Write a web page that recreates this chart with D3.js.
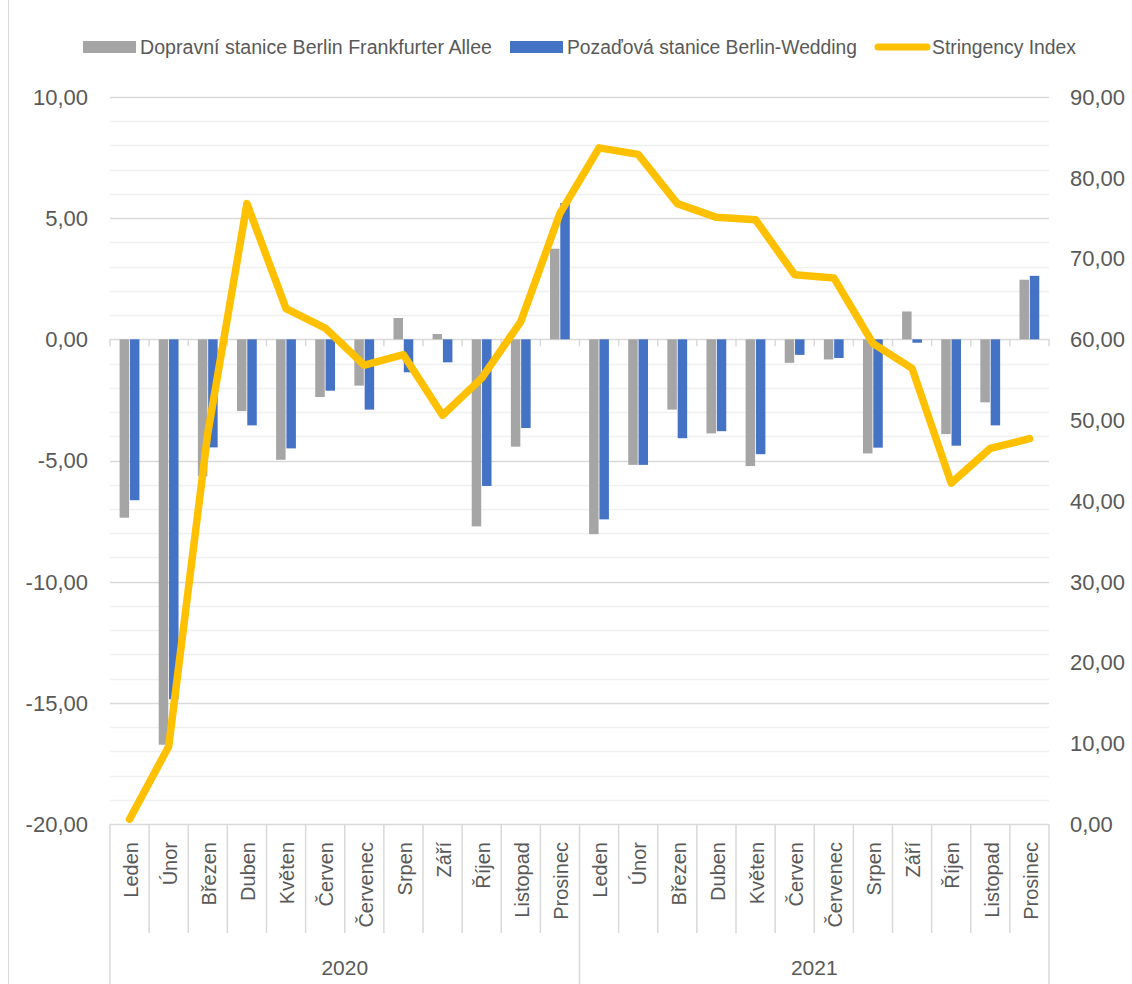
<!DOCTYPE html>
<html>
<head>
<meta charset="utf-8">
<script src="https://cdn.jsdelivr.net/npm/d3@7"></script>
<style>
    body { margin: 0; background: #fff; }
    svg text { font-family: 'Liberation Sans', Arial, sans-serif; fill: #595959; }
</style>
</head>
<body>
<svg width="1132" height="984"></svg>
<script>
// air quality change vs. stringency index, Berlin 2020-2021

var months = ['Leden', 'Únor', 'Březen', 'Duben', 'Květen', 'Červen', 'Červenec', 'Srpen', 'Září', 'Říjen', 'Listopad', 'Prosinec'];
var years = ['2020', '2021'];

var frankfurterAllee = [-7.36, -16.73, -5.65, -2.96, -4.97, -2.38, -1.91, 0.88, 0.22, -7.72, -4.43, 3.74,
    -8.04, -5.18, -2.90, -3.88, -5.23, -0.97, -0.83, -4.71, 1.15, -3.91, -2.60, 2.46];
var wedding = [-6.64, -14.85, -4.46, -3.55, -4.50, -2.12, -2.90, -1.36, -0.95, -6.05, -3.66, 5.62,
    -7.43, -5.18, -4.08, -3.79, -4.74, -0.64, -0.77, -4.47, -0.14, -4.39, -3.55, 2.62];
var stringency = [0.6, 9.6, 48.4, 76.8, 63.8, 61.4, 56.8, 58.1, 50.6, 55.2, 62.2, 75.6,
    83.7, 82.9, 76.8, 75.1, 74.8, 68.0, 67.6, 59.5, 56.4, 42.2, 46.5, 47.7];

var seriesNames = ['Dopravní stanice Berlin Frankfurter Allee', 'Pozaďová stanice Berlin-Wedding', 'Stringency Index'];
var leftTicks = [-20, -15, -10, -5, 0, 5, 10];
var rightTicks = [0, 10, 20, 30, 40, 50, 60, 70, 80, 90];

var svg = d3.select('svg');
var plot = {l: 110, r: 1049, t: 97, b: 824};
var gray = '#a5a5a5', blue = '#4472c4', gold = '#ffc000';
var fmt = function(v) { return d3.format('.2f')(v).replace('.', ',').replace('\u2212', '-'); };

// one category per month of both years
var cats = [];
years.forEach(function(yr) {
    months.forEach(function(m) { cats.push({year: yr, month: m}); });
});

var x = d3.scaleBand()
    .domain(d3.range(cats.length))
    .range([plot.l, plot.r]);
var x1 = d3.scaleBand()
    .domain([0, 1])
    .range([9.6, 29.4])
    .paddingInner(0.08);
var y = d3.scaleLinear().domain([-20, 10]).range([plot.b, plot.t]);
var y2 = d3.scaleLinear().domain([0, 90]).range([plot.b, plot.t]);

// chart area border
svg.append('line')
    .attr('x1', 8.5).attr('x2', 8.5)
    .attr('y1', 0).attr('y2', 984)
    .attr('stroke', '#d9d9d9');

// gridlines
svg.append('g').selectAll('line')
    .data(d3.range(-20, 11).filter(function(v) { return v % 5 != 0; }))
    .enter().append('line')
    .attr('x1', plot.l).attr('x2', plot.r)
    .attr('y1', function(d) { return Math.round(y(d)) + 0.5; })
    .attr('y2', function(d) { return Math.round(y(d)) + 0.5; })
    .attr('stroke', '#f0f0f0')
    .attr('stroke-width', 1.5);

svg.append('g').selectAll('line')
    .data(leftTicks)
    .enter().append('line')
    .attr('x1', plot.l).attr('x2', plot.r)
    .attr('y1', function(d) { return Math.round(y(d)) + 0.5; })
    .attr('y2', function(d) { return Math.round(y(d)) + 0.5; })
    .attr('stroke', '#d9d9d9')
    .attr('stroke-width', 1.5);

// tick marks below the zero line
svg.append('g').selectAll('line')
    .data(d3.range(cats.length + 1))
    .enter().append('line')
    .attr('x1', function(i) { return plot.l + i * x.step(); })
    .attr('x2', function(i) { return plot.l + i * x.step(); })
    .attr('y1', y(0))
    .attr('y2', y(0) + 7)
    .attr('stroke', '#d9d9d9')
    .attr('stroke-width', 1.5);

// left and right axis labels
svg.append('g').selectAll('text')
    .data(leftTicks)
    .enter().append('text')
    .attr('x', 88)
    .attr('y', function(d) { return y(d); })
    .attr('dy', '0.36em')
    .attr('text-anchor', 'end')
    .style('font-size', '22px')
    .text(fmt);

svg.append('g').selectAll('text')
    .data(rightTicks)
    .enter().append('text')
    .attr('x', 1070)
    .attr('y', function(d) { return y2(d); })
    .attr('dy', '0.36em')
    .style('font-size', '22px')
    .text(fmt);

// bars
var bars = svg.append('g');
[frankfurterAllee, wedding].forEach(function(series, s) {
    bars.selectAll('.bar' + s)
        .data(series)
        .enter().append('rect')
        .attr('class', 'bar' + s)
        .attr('x', function(d, i) { return x(i) + x1(s); })
        .attr('width', x1.bandwidth())
        .attr('y', function(d) { return y(Math.max(0, d)); })
        .attr('height', function(d) { return Math.abs(y(d) - y(0)); })
        .attr('fill', s == 0 ? gray : blue);
});

// stringency line
var line = d3.line()
    .x(function(d, i) { return x(i) + x.bandwidth() / 2; })
    .y(function(d) { return y2(d); });

svg.append('path')
    .datum(stringency)
    .attr('d', line)
    .attr('fill', 'none')
    .attr('stroke', gold)
    .attr('stroke-width', 7.5)
    .attr('stroke-linejoin', 'round')
    .attr('stroke-linecap', 'round');

// category label boxes
var axisB = svg.append('g');
axisB.selectAll('.sep')
    .data(d3.range(cats.length + 1))
    .enter().append('line')
    .attr('x1', function(i) { return plot.l + i * x.step(); })
    .attr('x2', function(i) { return plot.l + i * x.step(); })
    .attr('y1', plot.b)
    .attr('y2', function(i) { return i % 12 == 0 ? 984 : 933; })
    .attr('stroke', '#d9d9d9')
    .attr('stroke-width', 1.5);

axisB.selectAll('.month')
    .data(cats)
    .enter().append('text')
    .attr('transform', function(d, i) {
        return 'translate(' + [x(i) + x.bandwidth() / 2 + 1, 842] + ') rotate(-90)';
    })
    .attr('dy', '0.36em')
    .attr('text-anchor', 'end')
    .style('font-size', '20px')
    .text(function(d) { return d.month; });

axisB.selectAll('.year')
    .data(years)
    .enter().append('text')
    .attr('x', function(d, i) { return plot.l + (i * 12 + 6) * x.step(); })
    .attr('y', 967)
    .attr('dy', '0.36em')
    .attr('text-anchor', 'middle')
    .style('font-size', '21px')
    .text(function(d) { return d; });

// legend
var legendItems = [
    {name: seriesNames[0], color: gray, x: 83, tx: 140, tw: 352, type: 'rect'},
    {name: seriesNames[1], color: blue, x: 510, tx: 567, tw: 290, type: 'rect'},
    {name: seriesNames[2], color: gold, x: 875, tx: 932, tw: 144, type: 'line'}
];
var legend = svg.append('g').selectAll('g')
    .data(legendItems)
    .enter().append('g');

legend.filter(function(d) { return d.type == 'rect'; })
    .append('rect')
    .attr('x', function(d) { return d.x; })
    .attr('y', 41)
    .attr('width', 53)
    .attr('height', 12)
    .attr('fill', function(d) { return d.color; });

legend.filter(function(d) { return d.type == 'line'; })
    .append('line')
    .attr('x1', function(d) { return d.x + 3; })
    .attr('x2', function(d) { return d.x + 52; })
    .attr('y1', 47).attr('y2', 47)
    .attr('stroke', function(d) { return d.color; })
    .attr('stroke-width', 7)
    .attr('stroke-linecap', 'round');

legend.append('text')
    .attr('x', function(d) { return d.tx; })
    .attr('y', 47)
    .attr('dy', '0.36em')
    .attr('textLength', function(d) { return d.tw; })
    .attr('lengthAdjust', 'spacingAndGlyphs')
    .style('font-size', '20px')
    .text(function(d) { return d.name; });
</script>
</body>
</html>
